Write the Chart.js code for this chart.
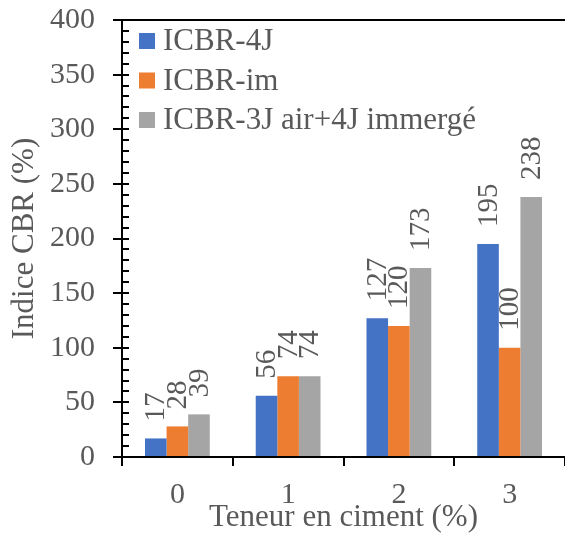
<!DOCTYPE html>
<html>
<head>
<meta charset="utf-8">
<script src="https://cdn.jsdelivr.net/npm/chart.js@4.4.0/dist/chart.umd.min.js"></script>
<style>
  html, body { margin: 0; padding: 0; background: #fff; }
  #wrap { width: 565px; height: 535px; }
</style>
</head>
<body>
<div id="wrap"><canvas id="chart" width="565" height="535"></canvas></div>
<script>
// Data
const categories = ['0', '1', '2', '3'];
const seriesNames = ['ICBR-4J', 'ICBR-im', 'ICBR-3J air+4J immergé'];
const icbr4J = [17, 56, 127, 195];
const icbrIm = [28, 74, 120, 100];
const icbr3JAir4JImm = [39, 74, 173, 238];
const yMin = 0, yMax = 400, yStep = 50, yMinorStep = 10;

const SERIF = "'Liberation Serif', 'Times New Roman', serif";
const TEXT = '#595959';
const colors = ['#4472C4', '#ED7D31', '#A5A5A5'];

// y axis tick marks: major ones cross the axis, minor ones sit inside
const yTickMarks = {
    id: 'yTickMarks',
    afterDraw(chart) {
        const ctx = chart.ctx;
        const y = chart.scales.y;
        const x0 = chart.chartArea.left;
        ctx.save();
        ctx.strokeStyle = '#000';
        ctx.lineWidth = 2;
        for (let v = yMin; v <= yMax; v += yMinorStep) {
            const py = Math.round(y.getPixelForValue(v));
            const major = v % yStep === 0;
            ctx.beginPath();
            ctx.moveTo(major ? x0 - 9 : x0, py);
            ctx.lineTo(x0 + 7, py);
            ctx.stroke();
        }
        ctx.restore();
    }
};

// rotated value labels above each bar
const barLabels = {
    id: 'barLabels',
    afterDatasetsDraw(chart) {
        const ctx = chart.ctx;
        ctx.save();
        ctx.fillStyle = TEXT;
        ctx.font = '29px ' + SERIF;
        ctx.textAlign = 'left';
        ctx.textBaseline = 'middle';
        chart.data.datasets.forEach((ds, i) => {
            chart.getDatasetMeta(i).data.forEach((bar, j) => {
                ctx.save();
                ctx.translate(bar.x + 1, bar.y - 17);
                ctx.rotate(-Math.PI / 2);
                ctx.fillText(String(ds.data[j]), 0, 0);
                ctx.restore();
            });
        });
        ctx.restore();
    }
};

// legend drawn inside the plot, top left
const innerLegend = {
    id: 'innerLegend',
    afterDraw(chart) {
        const ctx = chart.ctx;
        const left = chart.chartArea.left + 17;
        const top = chart.chartArea.top + 21;
        ctx.save();
        ctx.font = '31px ' + SERIF;
        ctx.textBaseline = 'middle';
        ctx.textAlign = 'left';
        chart.data.datasets.forEach((ds, i) => {
            const cy = top + i * 39.5;
            ctx.fillStyle = ds.backgroundColor;
            ctx.fillRect(left, cy - 8, 16, 16);
            ctx.fillStyle = TEXT;
            ctx.fillText(ds.label, left + 24, cy + 1);
        });
        ctx.restore();
    }
};

new Chart(document.getElementById('chart'), {
    type: 'bar',
    data: {
        labels: categories,
        datasets: [
            { label: seriesNames[0], data: icbr4J, backgroundColor: colors[0] },
            { label: seriesNames[1], data: icbrIm, backgroundColor: colors[1] },
            { label: seriesNames[2], data: icbr3JAir4JImm, backgroundColor: colors[2] }
        ]
    },
    options: {
        responsive: false,
        devicePixelRatio: 1,
        animation: false,
        layout: { padding: { top: 20, right: 0, bottom: 0, left: 0 } },
        datasets: {
            bar: { barPercentage: 1, categoryPercentage: 0.585, borderWidth: 0 }
        },
        plugins: {
            legend: { display: false },
            tooltip: { enabled: false }
        },
        scales: {
            x: {
                grid: {
                    offset: true,
                    drawOnChartArea: false,
                    tickLength: 9,
                    color: '#000',
                    lineWidth: 2
                },
                border: { color: '#000', width: 2 },
                ticks: { color: TEXT, font: { family: SERIF, size: 30 }, padding: 11 },
                title: {
                    display: true,
                    text: 'Teneur en ciment (%)',
                    color: TEXT,
                    font: { family: SERIF, size: 31 },
                    padding: { top: 0, bottom: -1 }
                },
                afterFit(scale) {
                    scale.height = 78;
                    scale.paddingLeft = 0;
                    scale.paddingRight = 0;
                }
            },
            y: {
                min: yMin,
                max: yMax,
                ticks: { stepSize: yStep, color: TEXT, font: { family: SERIF, size: 30 }, padding: 27 },
                grid: {
                    drawTicks: false,
                    color: ctx => (ctx.tick && ctx.tick.value === yMax ? '#000' : 'rgba(0,0,0,0)'),
                    lineWidth: 2
                },
                border: { color: '#000', width: 2 },
                title: {
                    display: true,
                    text: 'Indice CBR (%)',
                    color: TEXT,
                    font: { family: SERIF, size: 31 },
                    padding: { top: 6, bottom: 0 }
                },
                afterFit(scale) {
                    scale.width = 122;
                    scale.paddingTop = 0;
                    scale.paddingBottom = 0;
                }
            }
        }
    },
    plugins: [yTickMarks, barLabels, innerLegend]
});
</script>
</body>
</html>
